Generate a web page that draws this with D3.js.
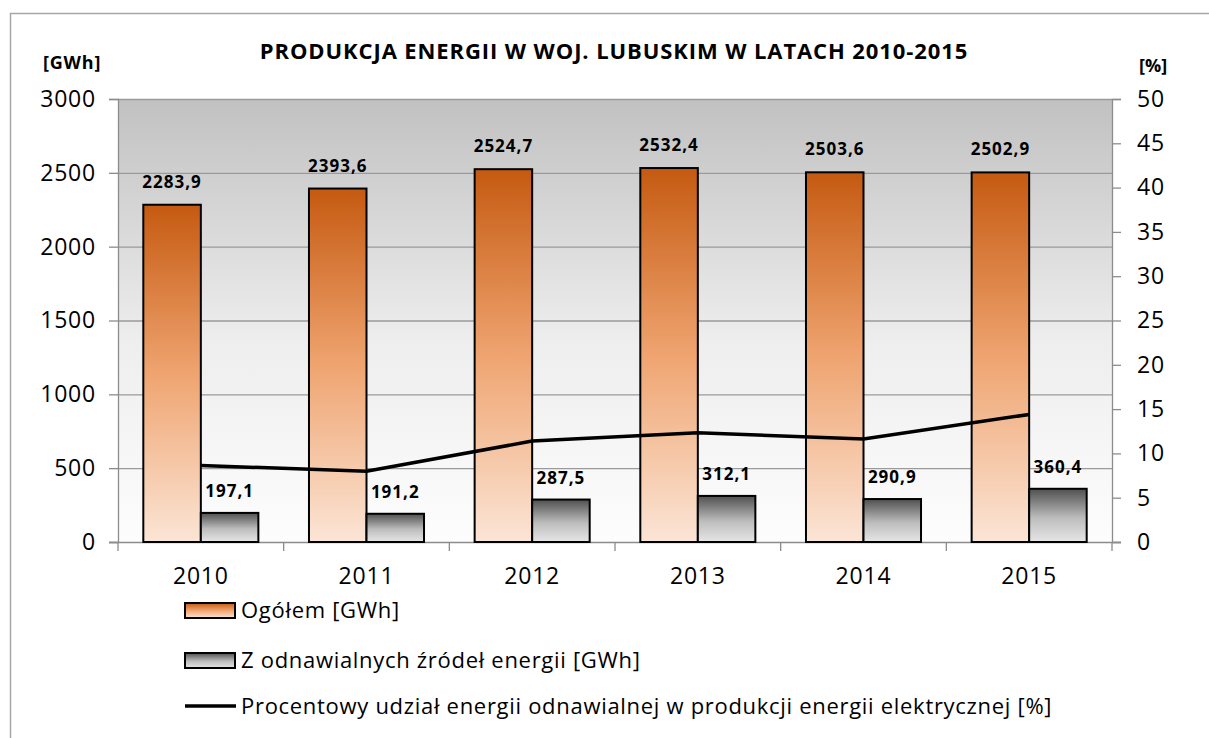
<!DOCTYPE html>
<html>
<head>
<meta charset="utf-8">
<script src="https://cdn.jsdelivr.net/npm/d3@7"></script>
<style>
  body { margin: 0; background: #fff; }
  text { font-family: "Open Sans", Lato, sans-serif; fill: #000; }
</style>
</head>
<body>
<svg id="chart" width="1209" height="738"></svg>
<script>
const years = ['2010', '2011', '2012', '2013', '2014', '2015']
const total = [2283.9, 2393.6, 2524.7, 2532.4, 2503.6, 2502.9]
const renewable = [197.1, 191.2, 287.5, 312.1, 290.9, 360.4]
const share = [8.63, 7.99, 11.39, 12.32, 11.62, 14.40]
const leftTicks = [0, 500, 1000, 1500, 2000, 2500, 3000]
const rightTicks = [0, 5, 10, 15, 20, 25, 30, 35, 40, 45, 50]
const legendLabels = ['Ogółem [GWh]', 'Z odnawialnych źródeł energii [GWh]',
  'Procentowy udział energii odnawialnej w produkcji energii elektrycznej [%]']

const svg = d3.select('#chart')
const pLeft = 118, pRight = 1112, pTop = 99, pBottom = 542
const fmt = v => v.toFixed(1).replace('.', ',')

// gradients
const defs = svg.append('defs')
const grad = (id, stops) => {
  const g = defs.append('linearGradient').attr('id', id)
    .attr('x1', 0).attr('y1', 0).attr('x2', 0).attr('y2', 1)
  stops.forEach(s => g.append('stop').attr('offset', s[0]).attr('stop-color', s[1]))
}
grad('bg', [[0, '#c1c1c1'], [0.55, '#eeeeee'], [1, '#fdfdfd']])
grad('orange', [[0, '#c55a11'], [0.5, '#efa470'], [1, '#fbe5d6']])
grad('gray', [[0, '#505050'], [0.55, '#bdbdbd'], [1, '#e6e6e6']])

// outer frame
svg.append('rect')
  .attr('x', 10.5).attr('y', 13.5).attr('width', 1300).attr('height', 800)
  .attr('fill', 'none').attr('stroke', '#a6a6a6').attr('stroke-width', 1.5)

const x = d3.scaleBand().domain(years).range([pLeft, pRight])
const bx = d3.scaleBand().domain(['t', 'r']).range([0, x.bandwidth()])
  .paddingOuter(0.44).paddingInner(0)
const y = d3.scaleLinear().domain([0, 3000]).range([pBottom, pTop])
const y2 = d3.scaleLinear().domain([0, 50]).range([pBottom, pTop])

svg.append('rect')
  .attr('x', pLeft).attr('y', pTop).attr('width', pRight - pLeft).attr('height', pBottom - pTop)
  .attr('fill', 'url(#bg)')

// grid
svg.append('g')
  .selectAll('line').data(leftTicks.slice(1)).join('line')
  .attr('x1', pLeft).attr('x2', pRight)
  .attr('y1', d => y(d) + 0.5).attr('y2', d => y(d) + 0.5)
  .attr('stroke', '#9a9a9a').attr('stroke-width', 1.3)

// axes
const leftAxis = svg.append('g').attr('transform', `translate(${pLeft},0)`)
  .call(d3.axisLeft(y).tickValues(leftTicks).tickFormat(d3.format('d')).tickSize(9).tickPadding(13))
const rightAxis = svg.append('g').attr('transform', `translate(${pRight},0)`)
  .call(d3.axisRight(y2).tickValues(rightTicks).tickSize(9).tickPadding(16))
const xAxis = svg.append('g').attr('transform', `translate(0,${pBottom})`)
  .call(d3.axisBottom(x).tickSize(0).tickPadding(26))
// category boundary ticks
svg.append('g').selectAll('line').data(d3.range(years.length + 1)).join('line')
  .attr('x1', i => pLeft + i * x.step()).attr('x2', i => pLeft + i * x.step())
  .attr('y1', pBottom).attr('y2', pBottom + 9)
  .attr('stroke', '#8c8c8c').attr('stroke-width', 1.3)

svg.selectAll('.domain').attr('stroke', '#8c8c8c').attr('stroke-width', 1.3)
svg.selectAll('.tick line').attr('stroke', '#8c8c8c').attr('stroke-width', 1.3)
svg.selectAll('.tick text').style('font-size', '23px').style('letter-spacing', '0.8px').attr('fill', '#222')
xAxis.select('.domain').attr('d', `M${pLeft - 9},0.5H${pRight + 9}`)

// bars
const groups = svg.append('g').selectAll('g').data(years).join('g')
  .attr('transform', d => `translate(${x(d)},0)`)

groups.append('rect')
  .attr('x', bx('t')).attr('width', bx.bandwidth())
  .attr('y', (d, i) => y(total[i])).attr('height', (d, i) => pBottom - y(total[i]))
  .attr('fill', 'url(#orange)').attr('stroke', '#000').attr('stroke-width', 2)

groups.append('rect')
  .attr('x', bx('r')).attr('width', bx.bandwidth())
  .attr('y', (d, i) => y(renewable[i])).attr('height', (d, i) => pBottom - y(renewable[i]))
  .attr('fill', 'url(#gray)').attr('stroke', '#000').attr('stroke-width', 2)

groups.append('text')
  .attr('x', bx('t') + bx.bandwidth() / 2).attr('y', (d, i) => y(total[i]) - 17)
  .attr('text-anchor', 'middle').style('font-size', '17px').style('font-weight', 'bold')
  .style('letter-spacing', '1px')
  .text((d, i) => fmt(total[i]))

groups.append('text')
  .attr('x', bx('r') + bx.bandwidth() / 2).attr('y', (d, i) => y(renewable[i]) - 16)
  .attr('text-anchor', 'middle').style('font-size', '17px').style('font-weight', 'bold')
  .style('letter-spacing', '1px')
  .text((d, i) => fmt(renewable[i]))

// line
const line = d3.line()
  .x((d, i) => x(years[i]) + x.bandwidth() / 2)
  .y(d => y2(d))
svg.append('path').datum(share)
  .attr('d', line).attr('fill', 'none').attr('stroke', '#000').attr('stroke-width', 3.5)

// titles
svg.append('text').attr('x', 614).attr('y', 59).attr('text-anchor', 'middle')
  .style('font-size', '22px').style('font-weight', 'bold').style('letter-spacing', '0.9px')
  .text('PRODUKCJA ENERGII W WOJ. LUBUSKIM W LATACH 2010-2015')
svg.append('text').attr('x', 43).attr('y', 69)
  .style('font-size', '18px').style('font-weight', 'bold').style('letter-spacing', '0.8px').text('[GWh]')
svg.append('text').attr('x', 1139).attr('y', 72)
  .style('font-size', '18px').style('font-weight', 'bold').text('[%]')

// legend
const legend = svg.append('g').attr('transform', 'translate(185,0)')
const ly = [610, 660, 706]
const fills = ['url(#orange)', 'url(#gray)']
legend.selectAll('rect').data(fills).join('rect')
  .attr('x', 0).attr('y', (d, i) => ly[i] - 7).attr('width', 50).attr('height', 15)
  .attr('fill', d => d).attr('stroke', '#000').attr('stroke-width', 2)
legend.append('line').attr('x1', 0).attr('x2', 51)
  .attr('y1', ly[2]).attr('y2', ly[2]).attr('stroke', '#000').attr('stroke-width', 3.5)
legend.selectAll('text').data(legendLabels).join('text')
  .attr('x', 56).attr('y', (d, i) => ly[i] + 8)
  .style('font-size', '22px').style('letter-spacing', '0.7px').attr('fill', '#222').text(d => d)
</script>
</body>
</html>
